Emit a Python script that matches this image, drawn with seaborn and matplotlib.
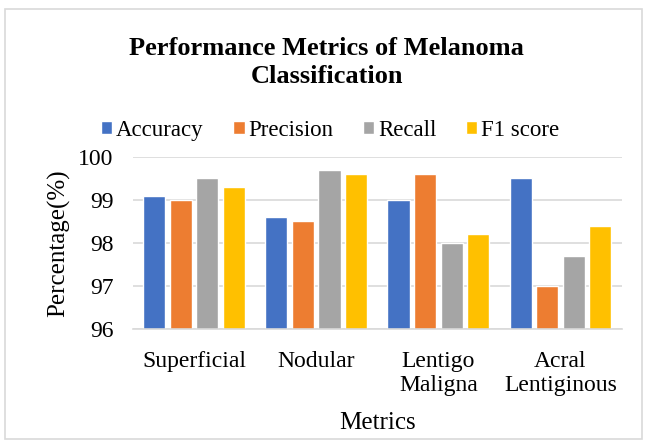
import matplotlib
matplotlib.use("Agg")
import matplotlib.pyplot as plt
import seaborn as sns
import pandas as pd
from matplotlib.patches import Rectangle

categories = ["Superficial", "Nodular", "Lentigo\nMaligna", "Acral\nLentiginous"]
metrics = ["Accuracy", "Precision", "Recall", "F1 score"]
accuracy = [99.1, 98.6, 99.0, 99.5]
precision = [99.0, 98.5, 99.6, 97.0]
recall = [99.5, 99.7, 98.0, 97.7]
f1_score = [99.3, 99.6, 98.2, 98.4]
colors = ["#4472C4", "#ED7D31", "#A5A5A5", "#FFC000"]

rows = []
for name, vals in zip(metrics, [accuracy, precision, recall, f1_score]):
    for c, v in zip(categories, vals):
        rows.append({"Category": c, "Metric": name, "Value": v})
df = pd.DataFrame(rows)

sns.set_style("white")
plt.rcParams["font.family"] = ["Liberation Serif", "DejaVu Serif"]
plt.rcParams["text.color"] = "black"
plt.rcParams["axes.labelcolor"] = "black"
plt.rcParams["xtick.color"] = "black"
plt.rcParams["ytick.color"] = "black"

fig = plt.figure(figsize=(6.47, 4.41), dpi=100)
ax = fig.add_axes([0.2056, 0.254, 0.755, 0.39])

sns.barplot(data=df, x="Category", y="Value", hue="Metric", palette=colors,
            width=0.87, gap=0.17, ax=ax, legend=True, saturation=1)

ax.set_ylim(96, 100)
ax.set_yticks([96, 97, 98, 99, 100])
ax.set_xlim(-0.5, 3.5)
ax.yaxis.grid(True, color="#D9D9D9", linewidth=1.2)
ax.set_axisbelow(True)
for s in ["top", "right", "left"]:
    ax.spines[s].set_visible(False)
ax.spines["bottom"].set_color("#D9D9D9")
ax.spines["bottom"].set_linewidth(1.2)
ax.tick_params(axis="both", length=0, labelsize=17, labelcolor="black")
ax.tick_params(axis="x", pad=16)
ax.tick_params(axis="y", pad=14)
for t in ax.get_xticklabels():
    t.set_linespacing(1.15)
ax.set_xlabel("Metrics", fontsize=18, labelpad=12, color="black")
ax.set_ylabel("Percentage(%)", fontsize=18, labelpad=6, color="black")

leg = ax.legend(loc="center", bbox_to_anchor=(0.51, 0.705), bbox_transform=fig.transFigure,
                ncol=4, frameon=False, fontsize=16.5, handlelength=0.5, handleheight=0.5,
                handletextpad=0.15, columnspacing=1.3, labelcolor="black")

fig.text(0.505, 0.858, "Performance Metrics of Melanoma\nClassification", ha="center", va="center",
         fontsize=19, fontweight="bold", linespacing=1.25, color="black")

fig.patches.append(Rectangle((0.008, 0.005), 0.985, 0.975, transform=fig.transFigure,
                             fill=False, edgecolor="#D9D9D9", linewidth=1.2))

fig.savefig("out.png", dpi=100)
